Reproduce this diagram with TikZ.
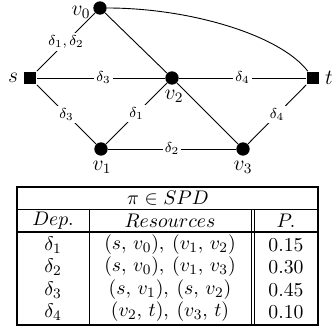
\documentclass[tikz,border=0pt]{standalone}
\begin{document}
\begin{tikzpicture}[x=0.5556pt,y=-0.5556pt,
  vtx/.style={circle,fill=black,inner sep=0pt,minimum size=7.4pt},
  term/.style={rectangle,fill=black,inner sep=0pt,minimum size=7.2pt},
  nlab/.style={font=\large,inner sep=0pt},
  elab/.style={font=\footnotesize,fill=white,inner sep=1.2pt},
  edge/.style={line width=0.5pt},
  tline/.style={line width=0.5pt},
  tthick/.style={line width=1pt},
  cell/.style={inner sep=0pt,anchor=center,font=\fontsize{11.2}{13}\selectfont}]
\useasboundingbox (0,0) rectangle (334,330);
% graph nodes
\node[term] (s) at (30,78) {};
\node[term] (t) at (313,78) {};
\node[vtx] (v0) at (100,8) {};
\node[vtx] (v2) at (172,78) {};
\node[vtx] (v1) at (101,149) {};
\node[vtx] (v3) at (243,149) {};
% labels
\node[nlab] (ls) at (13,78) {$s$};
\node[nlab] (lt) at (329,78) {$t$};
\node[nlab] (lv0) at (81,12) {$v_0$};
\node[nlab] (lv2) at (174,96) {$v_2$};
\node[nlab] (lv1) at (102,167) {$v_1$};
\node[nlab] (lv3) at (243,167) {$v_3$};
% edges
\draw[edge] (s) -- node[elab,pos=0.5] {$\delta_1,\delta_2$} (v0);
\draw[edge] (s) -- node[elab,pos=0.52] {$\delta_3$} (v2);
\draw[edge] (v2) -- node[elab,pos=0.5] {$\delta_4$} (t);
\draw[edge] (s) -- node[elab,pos=0.5] {$\delta_3$} (v1);
\draw[edge] (v1) -- node[elab,pos=0.5] {$\delta_1$} (v2);
\draw[edge] (v1) -- node[elab,pos=0.5] {$\delta_2$} (v3);
\draw[edge] (v3) -- node[elab,pos=0.5] {$\delta_4$} (t);
\draw[edge] (v0) -- (v2);
\draw[edge] (v2) -- (v3);
\draw[edge] (v0) .. controls (190,8) and (280,35) .. (t);
% table
\coordinate (tl) at (17,187);
\coordinate (br) at (318,325);
\draw[tthick] (tl) rectangle (br);
\draw[tline] (17,209) -- (318,209);
\draw[tthick] (17,232) -- (318,232);
\draw[tline] (89,209) -- (89,325);
\draw[tline] (251,209) -- (251,325);
\draw[tline] (254.5,209) -- (254.5,325);
\node[cell] (hdr) at (168,198) {$\pi \in SPD$};
\node[cell] (hdep) at (53,221) {$Dep.$};
\node[cell] (hres) at (170,221) {$Resources$};
\node[cell] (hp) at (286,221) {$P.$};
\node[cell] (d1) at (53,245) {$\delta_1$};
\node[cell] (d2) at (53,267) {$\delta_2$};
\node[cell] (d3) at (53,290) {$\delta_3$};
\node[cell] (d4) at (53,312) {$\delta_4$};
\node[cell] (r1) at (170,245) {$(s,\, v_0),\: (v_1,\, v_2)$};
\node[cell] (r2) at (170,267) {$(s,\, v_0),\: (v_1,\, v_3)$};
\node[cell] (r3) at (170,290) {$(s,\, v_1),\: (s,\, v_2)$};
\node[cell] (r4) at (170,312) {$(v_2,\, t),\: (v_3,\, t)$};
\node[cell] (p1) at (286,245) {$0.15$};
\node[cell] (p2) at (286,267) {$0.30$};
\node[cell] (p3) at (286,290) {$0.45$};
\node[cell] (p4) at (286,312) {$0.10$};
\end{tikzpicture}
\end{document}
